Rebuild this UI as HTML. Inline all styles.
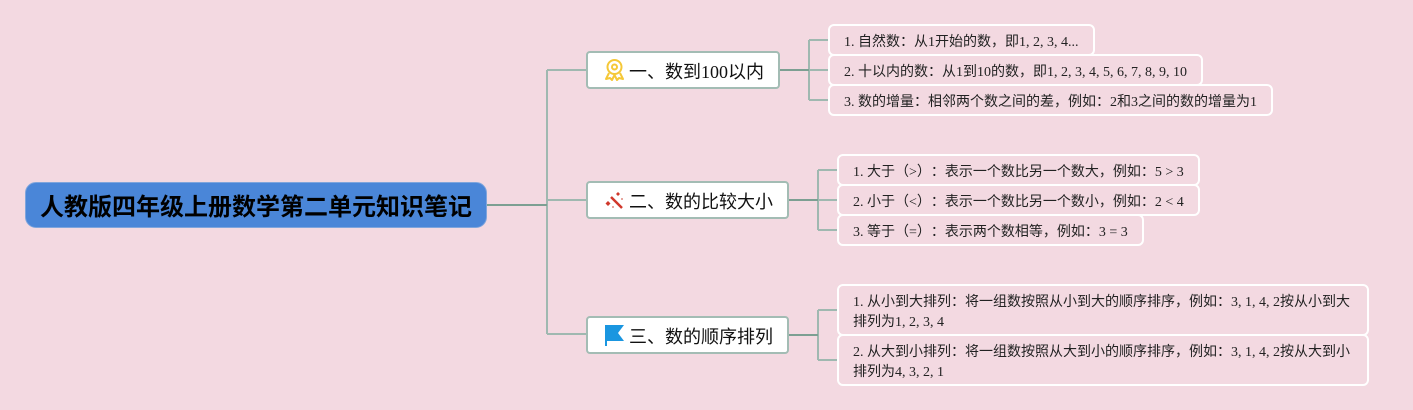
<!DOCTYPE html>
<html><head><meta charset="utf-8">
<style>
html,body{margin:0;padding:0;background:#f3d9e1;}
body{width:1413px;height:410px;overflow:hidden;position:relative;font-family:"Liberation Serif","WenQuanYi Zen Hei","Noto Sans CJK SC",serif;color:#222;text-spacing-trim:space-all;}
svg{position:absolute;left:0;top:0;}
.b{position:absolute;box-sizing:border-box;white-space:nowrap;}
.root{left:25px;top:182px;width:462px;height:46px;background:#4a86d8;border-radius:11px;border:1px solid #7fa5dc;font-size:24px;font-weight:bold;color:#000;line-height:50px;padding-left:14px;}
.mid{height:38px;background:#fff;border:2px solid #a3bcb4;border-radius:4px;font-size:18px;line-height:34px;color:#111;}
.mid span{position:absolute;left:41px;top:2px;}
.leaf{border:2px solid #fff;border-radius:6px;font-size:14px;line-height:20px;padding:7px 14px 0;color:#222;background:#f3d9e1;}
.wrap{white-space:normal;}
</style></head><body>
<svg width="1413" height="410" fill="none">
<g stroke="#9fb8b0" stroke-width="2">
<path d="M547 70V334"/>
<path d="M547 70H587M547 200H587M547 334H587"/>
<path d="M809 40V100M809 40H829M809 70H829M809 100H829"/>
<path d="M818 170V230M818 170H838M818 200H838M818 230H838"/>
<path d="M818 310V360M818 310H838M818 360H838"/>
</g>
<g stroke="#7c9f92" stroke-width="2">
<path d="M487 205H547"/>
<path d="M779 70H809"/>
<path d="M788 200H818"/>
<path d="M788 335H818"/>
</g>
</svg>
<div class="b root">人教版四年级上册数学第二单元知识笔记</div>

<div class="b mid" style="left:586px;top:51px;width:194px;"><span>一、数到100以内</span></div>
<div class="b mid" style="left:586px;top:181px;width:203px;"><span>二、数的比较大小</span></div>
<div class="b mid" style="left:586px;top:316px;width:203px;"><span>三、数的顺序排列</span></div>

<svg width="1413" height="410" fill="none">
<g stroke="#f5c838" stroke-width="2">
<circle cx="614.5" cy="67" r="7"/>
<circle cx="614.5" cy="67" r="2.5"/>
<path d="M609 73L606 79L610 78L612 80L614.5 75L617 80L619 78L623 79L620 73" stroke-linejoin="round"/>
</g>
<g>
<path d="M611 197L622 208" stroke="#d0382b" stroke-width="2.5"/>
<path d="M608 201l2.5 2.5-2.5 2.5-2.5-2.5z" fill="#d0382b"/>
<path d="M618 192l2 2-2 2-2-2z" fill="#d0382b"/>
<circle cx="622" cy="199" r="1" fill="#e08a80"/>
<circle cx="613" cy="207" r="1" fill="#e08a80"/>
</g>
<path d="M605 325H624L618 333L624 341H607V346H605Z" fill="#1a96e0"/>
</svg>

<div class="b leaf" style="left:828px;top:24px;width:267px;height:32px;">1. 自然数：从1开始的数，即1, 2, 3, 4...</div>
<div class="b leaf" style="left:828px;top:54px;width:375px;height:32px;">2. 十以内的数：从1到10的数，即1, 2, 3, 4, 5, 6, 7, 8, 9, 10</div>
<div class="b leaf" style="left:828px;top:84px;width:445px;height:32px;">3. 数的增量：相邻两个数之间的差，例如：2和3之间的数的增量为1</div>

<div class="b leaf" style="left:837px;top:154px;width:363px;height:32px;">1. 大于（&gt;）：表示一个数比另一个数大，例如：5 &gt; 3</div>
<div class="b leaf" style="left:837px;top:184px;width:363px;height:32px;">2. 小于（&lt;）：表示一个数比另一个数小，例如：2 &lt; 4</div>
<div class="b leaf" style="left:837px;top:214px;width:307px;height:32px;">3. 等于（=）：表示两个数相等，例如：3 = 3</div>

<div class="b leaf wrap" style="left:837px;top:284px;width:532px;height:52px;">1. 从小到大排列：将一组数按照从小到大的顺序排序，例如：3, 1, 4, 2按从小到大<br>排列为1, 2, 3, 4</div>
<div class="b leaf wrap" style="left:837px;top:334px;width:532px;height:52px;">2. 从大到小排列：将一组数按照从大到小的顺序排序，例如：3, 1, 4, 2按从大到小<br>排列为4, 3, 2, 1</div>
</body></html>
